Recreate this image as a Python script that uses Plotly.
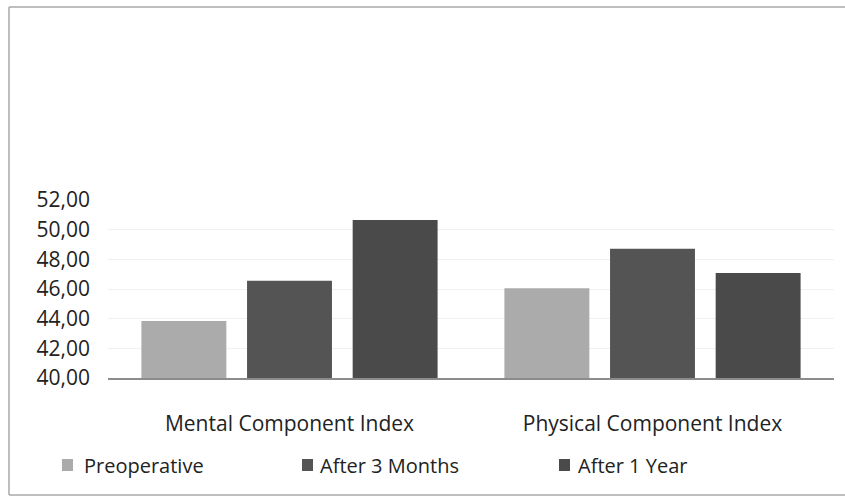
import plotly.graph_objects as go

# Quality-of-life summary scores by follow-up time point
categories = ["Mental Component Index", "Physical Component Index"]
series_names = ["Preoperative", "After 3 Months", "After 1 Year"]
preoperative = [43.85, 46.05]
after_3_months = [46.55, 48.72]
after_1_year = [50.65, 47.08]
y_ticks = [40, 42, 44, 46, 48, 50, 52]

series_values = [preoperative, after_3_months, after_1_year]
colors = ["#ababab", "#545454", "#4a4a4a"]

W, H = 845, 497
L, R, T, B = 108, 11, 200, 119
FONT = "Open Sans"
TEXT = "#222222"


def px_to_paper_x(px):
    return (px - L) / (W - L - R)


def px_to_paper_y(py):
    return (H - B - py) / (H - T - B)


fig = go.Figure()
for name, vals, col in zip(series_names, series_values, colors):
    fig.add_trace(go.Bar(x=categories, y=vals, name=name,
                         marker=dict(color=col, line=dict(width=0)),
                         showlegend=False))

fig.update_layout(
    width=W, height=H,
    margin=dict(l=L, r=R, t=T, b=B),
    paper_bgcolor="white", plot_bgcolor="white",
    barmode="group", bargap=0.127, bargroupgap=0.196,
    separators=",.",
    font=dict(family=FONT, size=20, color=TEXT),
    xaxis=dict(showgrid=False, showline=True, linecolor="#8c8c8c", linewidth=1.5,
               ticks="", ticklabelstandoff=26,
               tickfont=dict(family=FONT, size=21, color=TEXT)),
    yaxis=dict(range=[40, 52], tickvals=y_ticks, tickformat=".2f",
               showgrid=True, gridcolor="#f1f1f1", gridwidth=1,
               zeroline=False, showline=False, ticks="",
               ticklabelstandoff=17,
               tickfont=dict(family=FONT, size=21, color=TEXT)),
)

# legend row
legend_px = [(62, 82), (302, 318), (559, 576)]
legend_y = 465
for (mx, tx), name, col in zip(legend_px, series_names, colors):
    fig.add_shape(type="rect", xref="paper", yref="paper",
                  x0=px_to_paper_x(mx), x1=px_to_paper_x(mx + 11),
                  y0=px_to_paper_y(legend_y + 6), y1=px_to_paper_y(legend_y - 6),
                  fillcolor=col, line=dict(width=0))
    fig.add_annotation(xref="paper", yref="paper", x=px_to_paper_x(tx),
                       y=px_to_paper_y(legend_y), text=name, showarrow=False,
                       xanchor="left", yanchor="middle",
                       font=dict(family=FONT, size=20, color=TEXT))

# chart frame
frame = dict(color="#a8a8a8", width=1.5)
fig.add_shape(type="line", xref="paper", yref="paper",
              x0=px_to_paper_x(9), x1=px_to_paper_x(845),
              y0=px_to_paper_y(7), y1=px_to_paper_y(7), line=frame)
fig.add_shape(type="line", xref="paper", yref="paper",
              x0=px_to_paper_x(9), x1=px_to_paper_x(9),
              y0=px_to_paper_y(7), y1=px_to_paper_y(495), line=frame)
fig.add_shape(type="line", xref="paper", yref="paper",
              x0=px_to_paper_x(9), x1=px_to_paper_x(845),
              y0=px_to_paper_y(495), y1=px_to_paper_y(495), line=frame)

fig.write_html("out.html")
